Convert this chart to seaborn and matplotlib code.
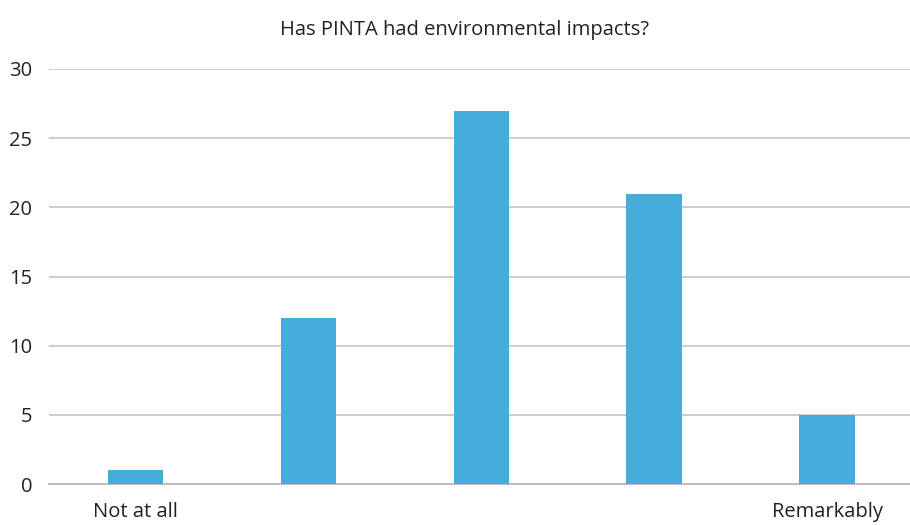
import matplotlib
matplotlib.use("Agg")
import matplotlib.pyplot as plt
import seaborn as sns
import pandas as pd

# Survey answers on a 1-5 scale
levels = [1, 2, 3, 4, 5]
counts = [1, 12, 27, 21, 5]
tick_labels = ["Not at all", "", "", "", "Remarkably"]
title = "Has PINTA had environmental impacts?"

df = pd.DataFrame({"level": levels, "count": counts})

sns.set_theme(style="white")
plt.rcParams["font.family"] = ["Open Sans", "DejaVu Sans"]

fig = plt.figure(figsize=(9.1, 5.25), dpi=100)
ax = fig.add_axes([49 / 910, 41 / 525, 1 - 49 / 910, 415 / 525])

sns.barplot(data=df, x="level", y="count", color="#44ADDC", width=0.32,
            saturation=1, linewidth=0, ax=ax, zorder=3)

ax.set_ylim(0, 30)
ax.set_xlim(-0.5, 4.48)
ax.set_yticks([0, 5, 10, 15, 20, 25, 30])
ax.yaxis.grid(True, color="#C4C4C4", linewidth=1.2, zorder=0)
ax.set_axisbelow(True)
ax.set_xticks(range(len(levels)))
ax.set_xticklabels(tick_labels)
ax.tick_params(axis="both", length=0, labelsize=14.5, colors="#222222")
ax.tick_params(axis="x", pad=13)
ax.tick_params(axis="y", pad=12)
ax.set_xlabel("")
ax.set_ylabel("")
for side in ["left", "right", "top"]:
    ax.spines[side].set_visible(False)
ax.spines["bottom"].set_color("#BDBDBD")
ax.spines["bottom"].set_linewidth(1.5)

fig.text(465 / 910, 1 - 30 / 525, title, ha="center", va="center",
         fontsize=14.5, color="#222222")

fig.savefig("out.png", dpi=100)
